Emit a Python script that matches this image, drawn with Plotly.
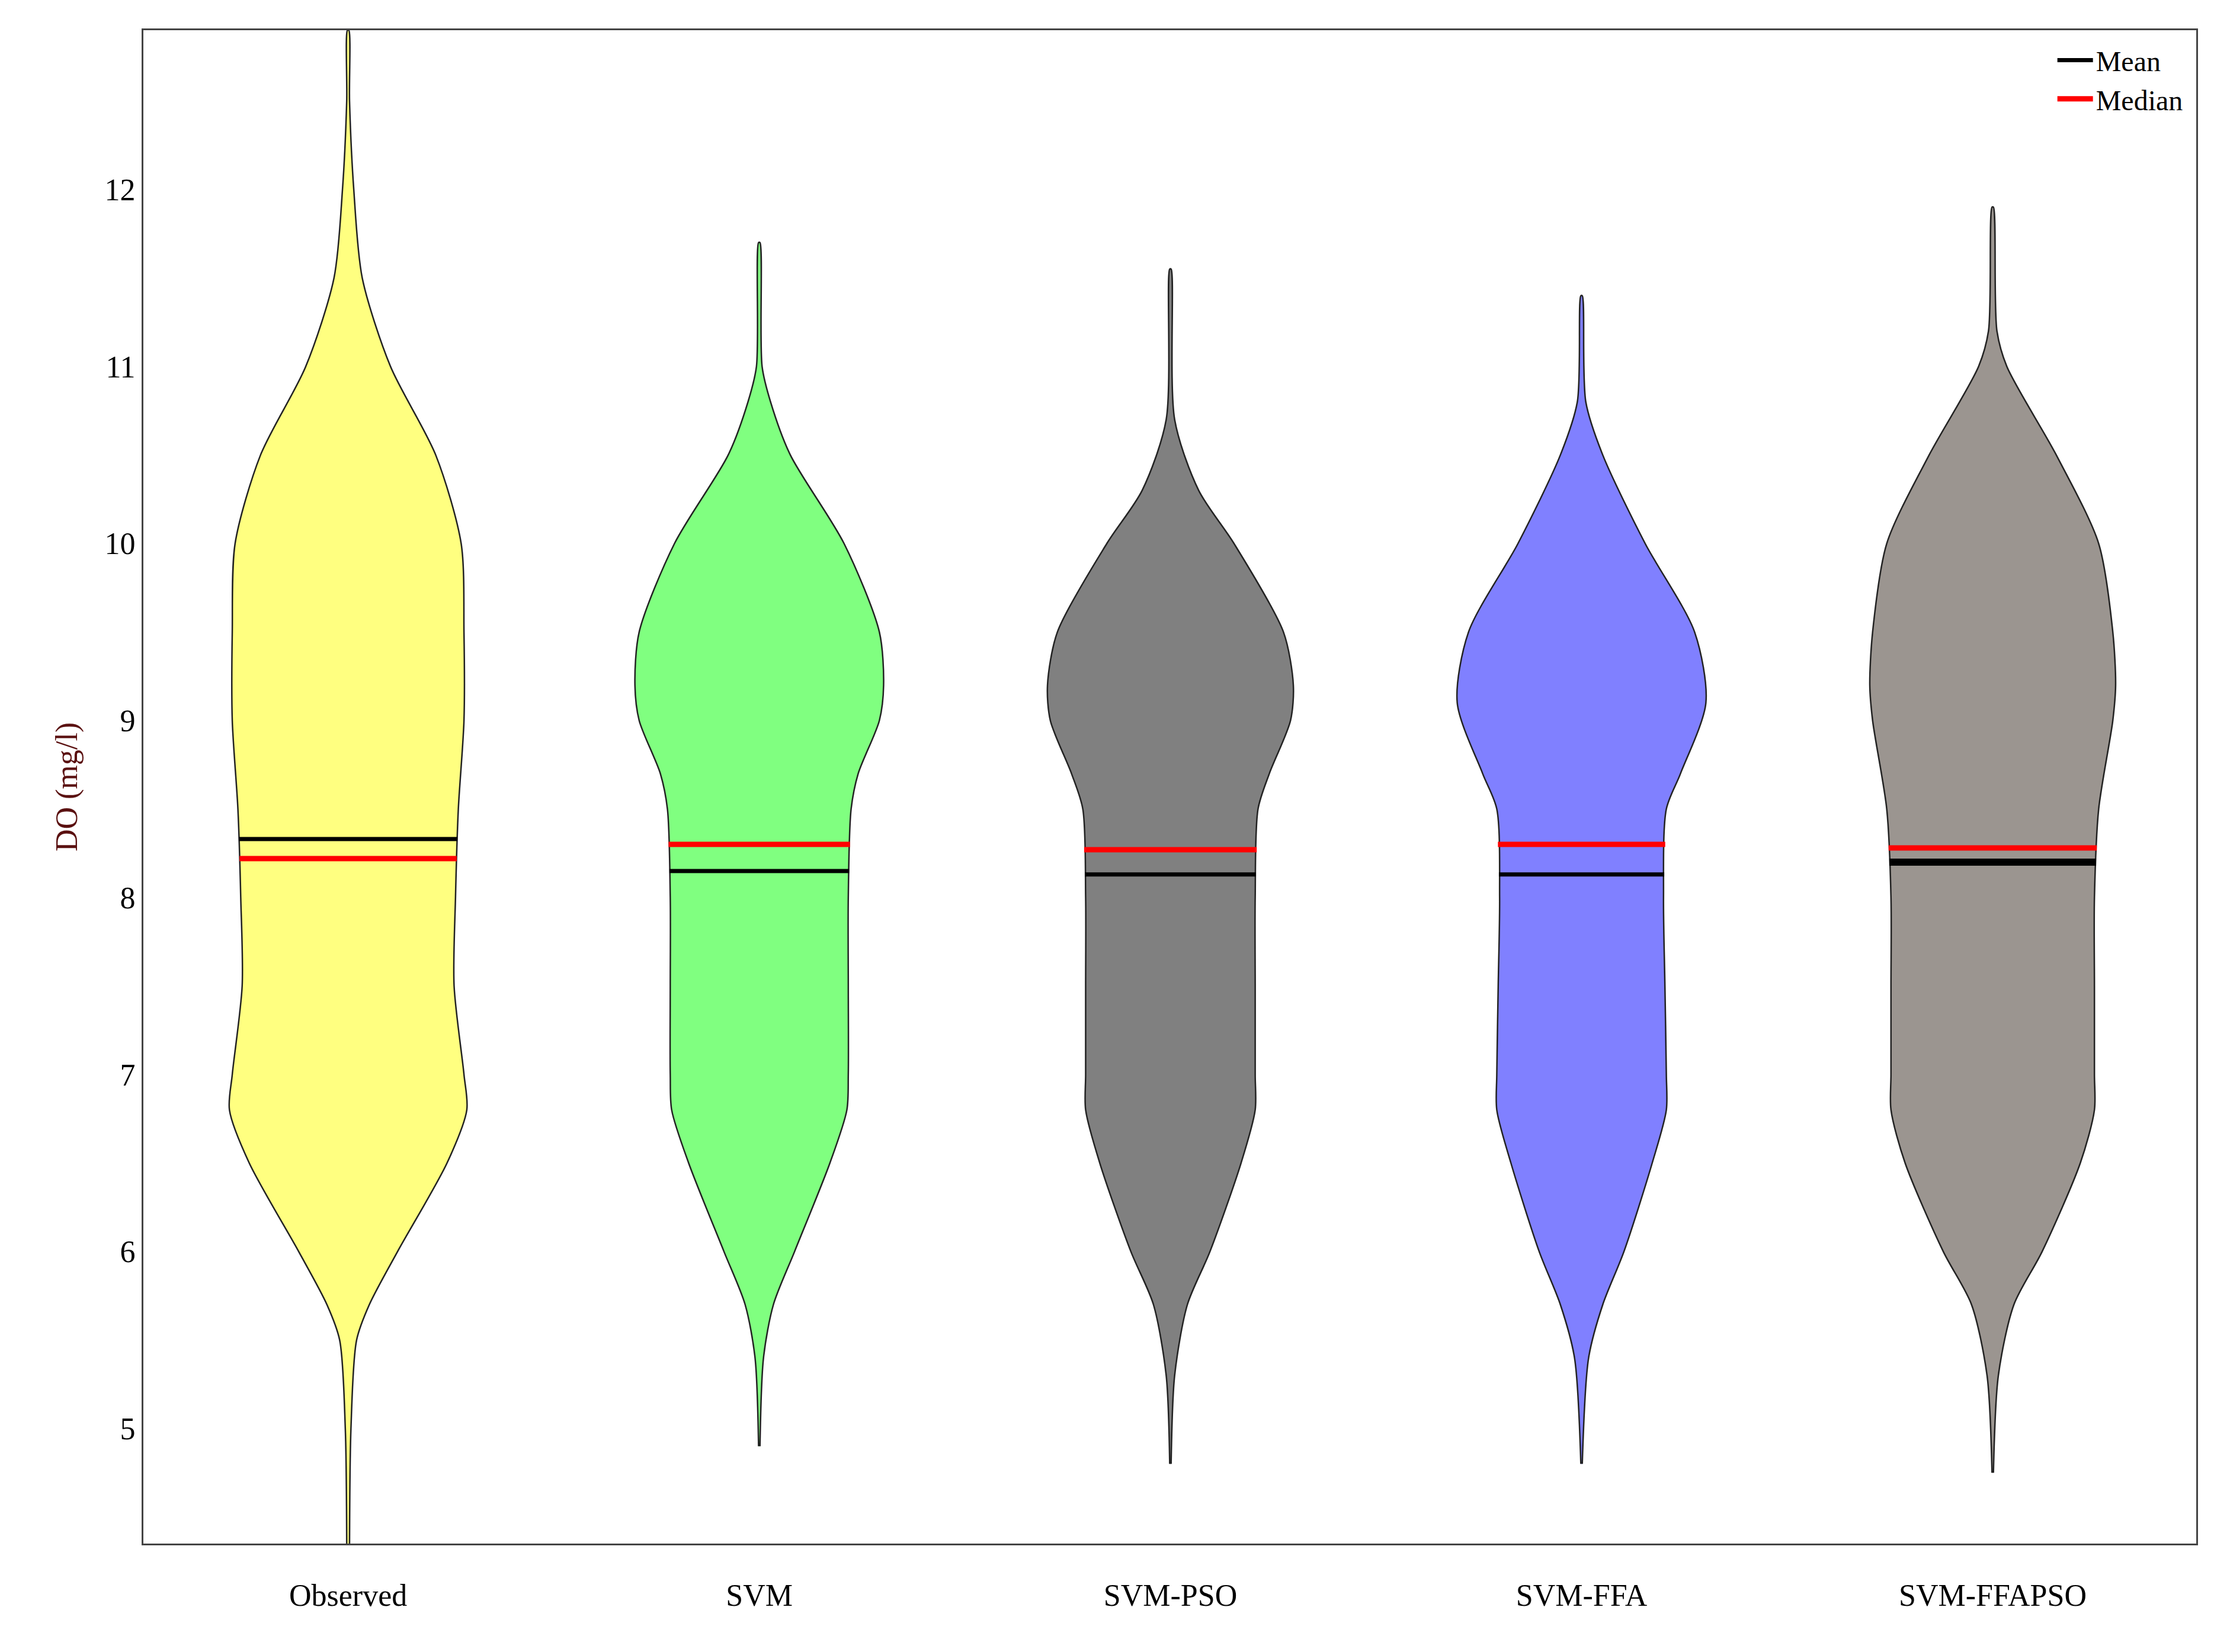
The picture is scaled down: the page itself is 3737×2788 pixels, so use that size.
import plotly.graph_objects as go

models = ["Observed", "SVM", "SVM-PSO", "SVM-FFA", "SVM-FFAPSO"]
colors = ["#ffff80", "#80ff80", "#808080", "#8080ff", "#9b9590"]
# violin profiles: DO value levels and half-widths (in px of a 291-px category spacing)
ys = [
    [4.35, 5.0, 5.5, 5.7, 6.0, 6.5, 6.8, 7.0, 7.5, 8.0, 8.5, 9.0, 9.5, 10.0, 10.5, 11.0, 11.5, 12.0, 12.5, 12.9],
    [4.9, 5.4, 5.7, 6.0, 6.5, 6.8, 7.0, 7.5, 8.0, 8.5, 8.7, 9.0, 9.2, 9.5, 10.0, 10.5, 10.8, 11.0, 11.7],
    [4.8, 5.3, 5.7, 6.0, 6.5, 6.8, 7.0, 7.5, 8.0, 8.5, 8.7, 9.0, 9.2, 9.5, 10.0, 10.3, 10.7, 11.55],
    [4.8, 5.4, 5.7, 6.0, 6.5, 6.8, 7.0, 7.5, 8.0, 8.5, 8.7, 9.1, 9.5, 10.0, 10.5, 10.8, 11.4],
    [4.75, 5.3, 5.7, 6.0, 6.5, 6.8, 7.0, 7.5, 8.0, 8.5, 9.0, 9.2, 9.5, 10.0, 10.5, 11.0, 11.2, 11.9],
]
ws_px = [
    [1, 2, 6, 15, 35, 70, 84, 82, 75, 76, 78, 82, 82, 80, 62, 30, 10, 4, 1, 0.5],
    [0.5, 3, 10, 25, 50, 62, 63, 63, 63, 65, 70, 85, 88, 85, 60, 22, 8, 2, 0.5],
    [0.5, 3, 12, 28, 50, 60, 60, 60, 60, 62, 70, 85, 87, 80, 45, 20, 3, 0.5],
    [0.5, 5, 15, 30, 50, 60, 60, 59, 58, 60, 70, 88, 80, 45, 15, 3, 0.5],
    [0.5, 4, 15, 35, 62, 72, 72, 72, 72, 75, 85, 87, 85, 75, 45, 10, 3, 0.5],
]
means = [8.33, 8.15, 8.13, 8.13, 8.20]
medians = [8.22, 8.30, 8.27, 8.30, 8.28]
SP = 291.0

fig = go.Figure()
for i, m in enumerate(models):
    w = [v / SP for v in ws_px[i]]
    y = ys[i]
    xs = [i + v for v in w] + [i - v for v in w[::-1]]
    yy = y + y[::-1]
    fig.add_trace(go.Scatter(x=xs, y=yy, fill="toself", fillcolor=colors[i], mode="lines",
                             line=dict(color="#222", width=2.5, shape="spline", smoothing=0.8),
                             showlegend=False, hoverinfo="skip"))
    def hw(v):
        for k in range(len(y) - 1):
            if y[k] <= v <= y[k + 1]:
                t = (v - y[k]) / (y[k + 1] - y[k])
                return (w[k] + t * (w[k + 1] - w[k]))
        return 0
    fig.add_trace(go.Scatter(x=[i - hw(medians[i]), i + hw(medians[i])], y=[medians[i]] * 2, mode="lines",
                             line=dict(color="red", width=9), showlegend=(i == 0), name="Median",
                             legendrank=2))
    fig.add_trace(go.Scatter(x=[i - hw(means[i]), i + hw(means[i])], y=[means[i]] * 2, mode="lines",
                             line=dict(color="black", width=7 if i < 4 else 12), showlegend=(i == 0), name="Mean",
                             legendrank=1))

fig.update_layout(
    width=3737, height=2788, paper_bgcolor="white", plot_bgcolor="white",
    margin=dict(l=234, r=38, t=43, b=191),
    font=dict(family="Liberation Serif", size=52, color="black"),
    legend=dict(x=0.995, y=0.995, xanchor="right", yanchor="top", bgcolor="rgba(0,0,0,0)",
                font=dict(size=48), tracegroupgap=0, itemwidth=60),
)
fig.update_xaxes(range=[-0.498, 4.495], tickvals=list(range(5)), ticktext=models, showgrid=False,
                 zeroline=False, showline=True, linecolor="#444", linewidth=3, mirror=True, ticks="",
                 ticklabelstandoff=40)
fig.update_yaxes(range=[4.35, 12.9], tickvals=[5, 6, 7, 8, 9, 10, 11, 12], showgrid=False, zeroline=False,
                 showline=True, linecolor="#444", linewidth=3, mirror=True, ticks="",
                 title=dict(text="DO (mg/l)", font=dict(size=52, color="#5a1010"), standoff=30))
fig.write_html("out.html")
